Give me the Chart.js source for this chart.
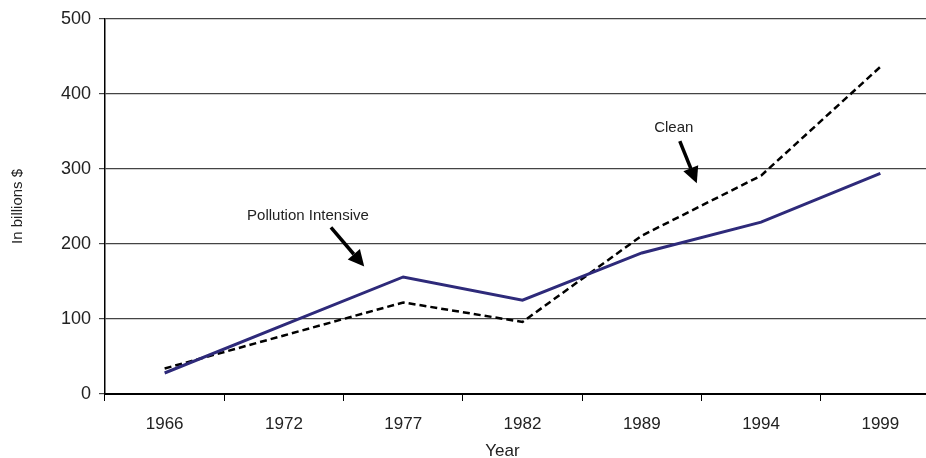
<!DOCTYPE html>
<html>
<head>
<meta charset="utf-8">
<script src="https://cdn.jsdelivr.net/npm/chart.js@4/dist/chart.umd.min.js"></script>
<style>
  html, body { margin: 0; padding: 0; overflow: hidden; background: #fff; }
  #wrap { width: 940px; height: 458px; }
</style>
</head>
<body>
<div id="wrap"><canvas id="chart" width="940" height="458"></canvas></div>
<script>
// data
const years = ['1966', '1972', '1977', '1982', '1989', '1994', '1999'];
const pollutionIntensive = [28, 92, 156, 125, 188, 229, 294];
const clean = [34, 78, 122, 96, 211, 291, 436];
const yTicks = [0, 100, 200, 300, 400, 500];

const font = "'Liberation Sans', Arial, sans-serif";

// arrows + labels drawn on top of the plot
const notes = {
    id: 'notes',
    afterDraw(chart) {
        const ctx = chart.ctx;
        const x = chart.scales.x, y = chart.scales.y;
        ctx.save();
        ctx.fillStyle = '#222';
        ctx.font = '15px ' + font;
        ctx.textAlign = 'center';
        ctx.textBaseline = 'middle';
        ctx.fillText('Pollution Intensive', x.getPixelForValue(1) + 24, y.getPixelForValue(238));
        ctx.fillText('Clean', x.getPixelForValue(4) + 32, y.getPixelForValue(354));
        ctx.font = '17px ' + font;
        ctx.fillText('Year', x.getPixelForValue(3) - 20, 451);
        arrow(ctx, x.getPixelForValue(1) + 47, y.getPixelForValue(222), x.getPixelForValue(2) - 39, y.getPixelForValue(170));
        arrow(ctx, x.getPixelForValue(4) + 38, y.getPixelForValue(337), x.getPixelForValue(4) + 55, y.getPixelForValue(281));
        ctx.restore();
    }
};

function arrow(ctx, x1, y1, x2, y2) {
    const a = Math.atan2(y2 - y1, x2 - x1);
    const len = 16, w = 8;
    const bx = x2 - len * Math.cos(a), by = y2 - len * Math.sin(a);
    ctx.strokeStyle = '#000';
    ctx.lineWidth = 3.5;
    ctx.beginPath();
    ctx.moveTo(x1, y1);
    ctx.lineTo(bx, by);
    ctx.stroke();
    ctx.fillStyle = '#000';
    ctx.beginPath();
    ctx.moveTo(x2, y2);
    ctx.lineTo(bx + w * Math.sin(a), by - w * Math.cos(a));
    ctx.lineTo(bx - w * Math.sin(a), by + w * Math.cos(a));
    ctx.closePath();
    ctx.fill();
}

const ctx = document.getElementById('chart').getContext('2d');
new Chart(ctx, {
    type: 'line',
    data: {
        labels: years,
        datasets: [{
            label: 'Pollution Intensive',
            data: pollutionIntensive,
            borderColor: '#2e2a7a',
            borderWidth: 3,
            pointRadius: 0,
            tension: 0
        }, {
            label: 'Clean',
            data: clean,
            borderColor: '#000',
            borderWidth: 2.5,
            borderDash: [7, 4],
            pointRadius: 0,
            tension: 0
        }]
    },
    options: {
        responsive: false,
        animation: false,
        layout: { padding: { top: 18, right: 0, bottom: 0, left: 0 } },
        plugins: { legend: { display: false }, tooltip: { enabled: false } },
        scales: {
            x: {
                offset: true,
                grid: { offset: true, drawOnChartArea: false, tickLength: 7, color: '#000', lineWidth: 1 },
                border: { display: true, color: '#000', width: 2 },
                ticks: { color: '#222', font: { family: font, size: 17 }, padding: 13, maxRotation: 0 },
                afterFit(s) { s.height = 64; }
            },
            y: {
                min: 0,
                max: 500,
                afterBuildTicks(s) { s.ticks = yTicks.map(v => ({ value: v })); },
                grid: { color: '#444', lineWidth: 1.2, tickLength: 6 },
                border: { display: true, color: '#000', width: 1.5 },
                ticks: { color: '#222', font: { family: font, size: 18 }, padding: 8 },
                title: { display: true, text: 'In billions $', color: '#222', font: { family: font, size: 15 }, padding: { top: 9, bottom: 0 } },
                afterFit(s) { s.width = 105; }
            }
        }
    },
    plugins: [notes]
});
</script>
</body>
</html>
